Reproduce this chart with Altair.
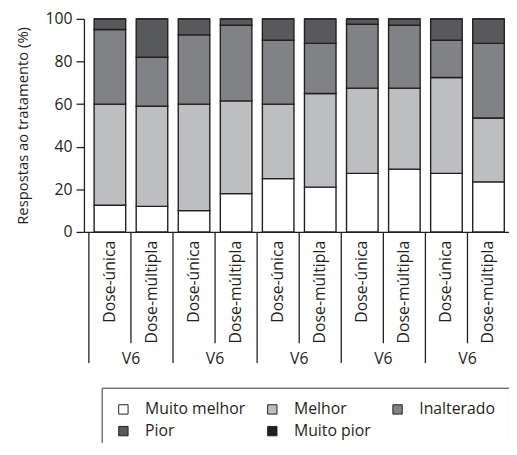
import altair as alt
import pandas as pd

# ---- data ----
doses = ["Dose-única", "Dose-múltipla"] * 5
groups = ["V6", "V6", "V6", "V6", "V6"]
responses = ["Muito melhor", "Melhor", "Inalterado", "Pior", "Muito pior"]
colors = ["#ffffff", "#bcbec0", "#808285", "#58595b", "#231f20"]

muito_melhor = [12.5, 12, 10, 18, 25, 21, 27.5, 29.5, 27.5, 23.5]
melhor = [47.5, 47, 50, 43.5, 35, 44, 40, 38, 45, 30]
inalterado = [35, 23, 32.5, 35.5, 30, 23.5, 30, 29.5, 17.5, 35]
pior = [5, 18, 7.5, 3, 10, 11.5, 2.5, 3, 10, 11.5]
muito_pior = [0, 0, 0, 0, 0, 0, 0, 0, 0, 0]

series = [muito_melhor, melhor, inalterado, pior, muito_pior]

rows = []
for i, dose in enumerate(doses):
    for k, (resp, vals) in enumerate(zip(responses, series)):
        rows.append({"pos": i, "dose": dose, "resp": resp, "value": vals[i], "ord": k})
df = pd.DataFrame(rows)

labels_df = pd.DataFrame({"pos": list(range(len(doses))), "dose": doses})
groups_df = pd.DataFrame({"pos": [2 * g + 0.5 for g in range(len(groups))], "grp": groups})
long_df = pd.DataFrame({"pos": [2 * g - 0.5 for g in range(len(groups))]})
mid_df = pd.DataFrame({"pos": [2 * g + 0.5 for g in range(len(groups))]})

FONT = "Open Sans"
INK = "#231f20"
H = 216

xscale = alt.Scale(domain=[-0.5, 9.37], nice=False, zero=False)
xaxis = alt.Axis(title=None, labels=False, ticks=False, grid=False,
                 domainColor=INK, domainWidth=1.3)

bars = alt.Chart(df).mark_bar(size=32, stroke=INK, strokeWidth=1.4).encode(
    x=alt.X("pos:Q", scale=xscale, axis=xaxis),
    y=alt.Y("value:Q", stack="zero",
            scale=alt.Scale(domain=[0, 100], nice=False),
            axis=alt.Axis(title="Respostas ao tratamento (%)", values=[0, 20, 40, 60, 80, 100],
                          grid=False, tickSize=8, tickColor=INK, tickWidth=1.3,
                          domainColor=INK, domainWidth=1.3,
                          labelFont=FONT, labelFontSize=16, labelColor=INK, labelPadding=4,
                          titleFont=FONT, titleFontSize=15, titleFontWeight="normal",
                          titleColor=INK, titlePadding=15)),
    color=alt.Color("resp:N", scale=alt.Scale(domain=responses, range=colors),
                    legend=alt.Legend(title=None, orient="none", legendX=18, legendY=374,
                                      columns=3, direction="horizontal",
                                      symbolType="square", symbolSize=90,
                                      symbolStrokeColor=INK, symbolStrokeWidth=1,
                                      labelFont=FONT, labelFontSize=16, labelColor=INK,
                                      labelOffset=14, columnPadding=19, rowPadding=6,
                                      padding=14, strokeColor="#333333",
                                      fillColor="#ffffff")),
    order=alt.Order("ord:Q"),
)

long_rules = alt.Chart(long_df).mark_rule(color=INK, strokeWidth=1.3).encode(
    x=alt.X("pos:Q", scale=xscale, axis=xaxis),
    y=alt.value(H), y2=alt.value(H + 133),
)
mid_rules = alt.Chart(mid_df).mark_rule(color=INK, strokeWidth=1.3).encode(
    x=alt.X("pos:Q", scale=xscale, axis=xaxis),
    y=alt.value(H), y2=alt.value(H + 113),
)
dose_text = alt.Chart(labels_df).mark_text(
    angle=270, align="right", baseline="middle", font=FONT, fontSize=16, color=INK
).encode(
    x=alt.X("pos:Q", scale=xscale, axis=xaxis),
    y=alt.value(H + 9),
    text="dose:N",
)
group_text = alt.Chart(groups_df).mark_text(
    align="center", baseline="middle", font=FONT, fontSize=16, color=INK
).encode(
    x=alt.X("pos:Q", scale=xscale, axis=xaxis),
    y=alt.value(H + 129),
    text="grp:N",
)

chart = alt.layer(bars, long_rules, mid_rules, dose_text, group_text).properties(
    width=431, height=H,
    autosize=alt.AutoSizeParams(type="none"),
    padding={"left": 77, "top": 8, "right": 0, "bottom": 211},
    background="#ffffff",
).configure_view(stroke=None)

chart.save("out.html", embed_options={"renderer": "svg", "actions": False})
